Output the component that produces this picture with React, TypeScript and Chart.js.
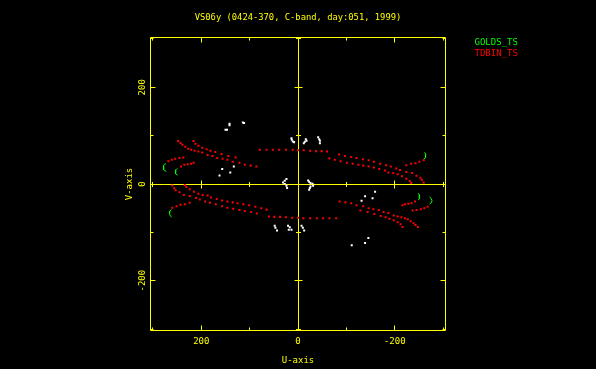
import { useEffect, useRef } from "react";
import { Chart, registerables } from "chart.js";

Chart.register(...registerables);

const TITLE = "VS06y (0424-370, C-band, day:051, 1999)";
const X_LABEL = "U-axis";
const Y_LABEL = "V-axis";
const TICK_VALUES = [-300, -200, -100, 0, 100, 200, 300];
const LABELED_TICKS = [-200, 0, 200];
const X_RANGE = 305;
const Y_RANGE = 303;

const YELLOW = "#ffff00";
const RED = "#ff0000";
const GREEN = "#00ff00";
const WHITE = "#ffffff";
const FONT = '9px "DejaVu Sans Mono", monospace';

type P = [number, number];

// TDBIN_TS baselines (red), [u, v]
const redUL1: P[] = [[248,89],[243,85],[239,81],[233,77],[227,73],[221,71],[214,69],[206,67],[198,65],[187,60],[177,58],[167,54],[156,52],[146,50],[135,46],[121,44],[110,40],[98,38],[86,36]];
const redLR1: P[] = [[-248,-89],[-243,-85],[-239,-81],[-233,-77],[-227,-73],[-221,-71],[-214,-69],[-206,-67],[-198,-65],[-187,-60],[-177,-58],[-167,-54],[-156,-52],[-146,-50],[-135,-46],[-121,-44],[-110,-40],[-98,-38],[-86,-36]];
const redUL2: P[] = [[216,89],[212,83],[206,79],[198,75],[189,72],[181,69],[171,66],[158,62],[144,58],[129,55]];
const redLR2: P[] = [[-216,-89],[-212,-83],[-206,-79],[-198,-75],[-189,-72],[-181,-69],[-171,-66],[-158,-62],[-144,-58],[-129,-55]];
const redUL3: P[] = [[268,47],[261,50],[254,52],[245,54],[237,55]];
const redLR3: P[] = [[-268,-47],[-261,-50],[-254,-52],[-245,-54],[-237,-55]];
const redUL4: P[] = [[242,36],[235,40],[228,41],[221,42],[216,44]];
const redLR4: P[] = [[-242,-36],[-235,-40],[-228,-41],[-221,-42],[-216,-44]];
const redTop: P[] = [[79,71],[65,71],[52,71],[39,71],[25,71],[11,71],[0,70],[-12,70],[-25,69],[-37,68],[-49,68],[-60,67]];
const redBottom: P[] = [[-79,-71],[-65,-71],[-52,-71],[-39,-71],[-25,-71],[-11,-71],[0,-70],[12,-70],[25,-69],[37,-68],[49,-68],[60,-67]];
const redUR1: P[] = [[-85,61],[-97,58],[-110,56],[-121,54],[-134,51],[-146,49],[-157,46],[-170,42],[-182,39],[-192,36],[-203,32],[-211,29],[-224,25],[-236,23],[-245,17],[-253,13],[-256,9],[-260,3]];
const redLL1: P[] = [[85,-61],[97,-58],[110,-56],[121,-54],[134,-51],[146,-49],[157,-46],[170,-42],[182,-39],[192,-36],[203,-32],[211,-29],[224,-25],[236,-23],[245,-17],[253,-13],[256,-9],[260,-3]];
const redUR2: P[] = [[-65,53],[-76,50],[-88,47],[-101,44],[-113,42],[-125,40],[-135,38],[-146,36],[-157,34],[-168,31],[-180,28],[-187,24],[-197,23],[-206,20],[-215,16],[-224,11],[-231,6],[-234,2]];
const redLL2: P[] = [[65,-53],[76,-50],[88,-47],[101,-44],[113,-42],[125,-40],[135,-38],[146,-36],[157,-34],[168,-31],[180,-28],[187,-24],[197,-23],[206,-20],[215,-16],[224,-11],[231,-6],[234,-2]];
const redUR3: P[] = [[-224,39],[-234,42],[-243,43],[-251,46],[-260,49]];
const redLL3: P[] = [[224,-39],[234,-42],[243,-43],[251,-46],[260,-49]];

// GOLDS_TS baselines (green), short arcs
const greenArc1: P[] = [[273,42],[276.5,40.7],[278,37.6],[278,33.5],[277.6,29.3],[275.5,27.3],[272.4,26.7]];
const greenArc2: P[] = [[249.5,32.4],[252.6,29.3],[253.7,25.2],[252.6,21.1],[248.9,18.4]];
const greenArc3: P[] = [[262,-52.7],[265.1,-56.4],[265.5,-60.9],[264.5,-65.7],[261.4,-68.4]];
const greenArc4: P[] = [[-261.2,65.5],[-263.9,62.4],[-264.3,58.3],[-263.2,54.1],[-259.7,51.4]];
const greenArc5: P[] = [[-248.1,-18.8],[-250.8,-22.3],[-251.4,-26.4],[-250.8,-30.6],[-248.1,-33.3]];
const greenArc6: P[] = [[-272.2,-26.4],[-275.7,-30.6],[-277.1,-34.7],[-275.7,-38.8],[-272.2,-41.5]];

// other baselines (white)
const whiteTop: P[] = [[13.5,94.8],[12.9,91.3],[10.8,87.8],[8.1,86.6],[-16.2,92.8],[-17.6,89.3],[-14.1,87.2],[-12,84.5],[-41.7,96.9],[-43.8,92.8],[-45.3,89.3],[-45.3,84.5]];
const whiteBottom: P[] = [[48.2,-86.4],[46.7,-90.5],[43.4,-96.1],[20.6,-86.4],[17,-89.5],[13.5,-94.6],[19.1,-94.6],[-7.3,-86.4],[-10,-90.5],[-12.7,-96.1]];
const whiteCenter: P[] = [[23.9,10.1],[27.4,6.6],[30.9,3.1],[27.4,-0.2],[23.9,-3.7],[22.6,-8.5],[-21,7.2],[-23,4.5],[-25.9,1.9],[-30.1,0.4],[-31.3,-3.7],[-25.9,-5.2],[-24.5,-8.5],[-23,-12]];
const whiteScatter: P[] = [[141.6,124.4],[141.6,121.3],[149.9,112],[146.8,112],[114,127.1],[111.5,126.4],[156.7,30.8],[140.1,23.8],[162.3,17.6],[132.7,36.2],[-159.4,-16.1],[-154.2,-29.5],[-138.7,-25.4],[-131.4,-34.7],[-145.5,-111.8],[-138.7,-122.1],[-111.1,-126.6]];

const redTracks = [redUL1, redLR1, redUL2, redLR2, redUL3, redLR3, redUL4, redLR4, redTop, redBottom, redUR1, redLL1, redUR2, redLL2, redUR3, redLL3];
const greenArcs = [greenArc1, greenArc2, greenArc3, greenArc4, greenArc5, greenArc6];
const whiteSets = [whiteTop, whiteBottom, whiteCenter, whiteScatter];

const LEGEND = [
  { label: "GOLDS_TS", color: GREEN },
  { label: "TDBIN_TS", color: RED },
];

const toXY = (pts: P[]) => pts.map(([x, y]) => ({ x, y }));

const decor = {
  id: "decor",
  beforeDraw(chart: any) {
    const ctx = chart.ctx;
    ctx.save();
    ctx.fillStyle = "#000000";
    ctx.fillRect(0, 0, chart.width, chart.height);
    ctx.restore();
  },
  beforeDatasetsDraw(chart: any) {
    const { ctx, chartArea: a } = chart;
    const xs = chart.scales.x;
    const ys = chart.scales.y;
    const snap = (p: number) => Math.round(p - 0.5) + 0.5;
    const L = snap(a.left), R = snap(a.right), T = snap(a.top), B = snap(a.bottom);
    const x0 = snap(xs.getPixelForValue(0));
    const y0 = snap(ys.getPixelForValue(0));
    ctx.save();
    ctx.strokeStyle = YELLOW;
    ctx.lineWidth = 1;
    ctx.beginPath();
    ctx.rect(L, T, R - L, B - T);
    ctx.moveTo(x0, T); ctx.lineTo(x0, B);
    ctx.moveTo(L, y0); ctx.lineTo(R, y0);
    for (const v of TICK_VALUES) {
      const major = v % 200 === 0;
      const len = major ? 5 : 3;
      const half = major ? 4 : 2.5;
      const px = snap(xs.getPixelForValue(v));
      const py = snap(ys.getPixelForValue(v));
      ctx.moveTo(px, B); ctx.lineTo(px, B - len);
      ctx.moveTo(px, T); ctx.lineTo(px, T + len);
      ctx.moveTo(L, py); ctx.lineTo(L + len, py);
      ctx.moveTo(R, py); ctx.lineTo(R - len, py);
      if (v !== 0) {
        ctx.moveTo(px, y0 - half); ctx.lineTo(px, y0 + half);
        ctx.moveTo(x0 - half, py); ctx.lineTo(x0 + half, py);
      }
    }
    ctx.stroke();

    ctx.fillStyle = YELLOW;
    ctx.font = FONT;
    ctx.textBaseline = "alphabetic";
    ctx.textAlign = "center";
    for (const v of LABELED_TICKS) {
      ctx.fillText(String(v), xs.getPixelForValue(v), B + 13);
    }
    ctx.fillText(X_LABEL, (a.left + a.right) / 2, B + 32);
    for (const v of LABELED_TICKS) {
      ctx.save();
      ctx.translate(a.left - 5.5, ys.getPixelForValue(v));
      ctx.rotate(-Math.PI / 2);
      ctx.fillText(String(v), 0, 0);
      ctx.restore();
    }
    ctx.save();
    ctx.translate(a.left - 19, (a.top + a.bottom) / 2);
    ctx.rotate(-Math.PI / 2);
    ctx.fillText(Y_LABEL, 0, 0);
    ctx.restore();

    ctx.font = '8.8px "DejaVu Sans Mono", monospace';
    ctx.fillText(TITLE, (a.left + a.right) / 2, 19.5);

    ctx.font = FONT;
    ctx.textAlign = "left";
    LEGEND.forEach((item, i) => {
      ctx.fillStyle = item.color;
      ctx.fillText(item.label, 474.5, 45 + i * 10.6);
    });
    ctx.restore();
  },
};

export default function App() {
  const ref = useRef<HTMLCanvasElement>(null);
  useEffect(() => {
    document.body.style.margin = "0";
    document.body.style.background = "#000";
    const datasets: any[] = [];
    datasets.push({
      label: "TDBIN_TS",
      data: toXY(redTracks.flat()),
      pointStyle: "rect",
      pointRadius: 1.42,
      backgroundColor: RED,
      borderWidth: 0,
      showLine: false,
    });
    datasets.push({
      label: "other",
      data: toXY(whiteSets.flat()),
      pointStyle: "rect",
      pointRadius: 1.42,
      backgroundColor: WHITE,
      borderWidth: 0,
      showLine: false,
    });
    greenArcs.forEach((arc) => {
      datasets.push({
        label: "GOLDS_TS",
        data: toXY(arc),
        showLine: true,
        borderColor: GREEN,
        borderWidth: 1,
        pointRadius: 0,
        fill: false,
        tension: 0,
      });
    });
    const chart = new Chart(ref.current!, {
      type: "scatter",
      data: { datasets },
      options: {
        responsive: false,
        animation: false,
        devicePixelRatio: 1,
        events: [],
        layout: { padding: { left: 150.5, right: 150.5, top: 37.5, bottom: 38.5 } },
        scales: {
          x: { type: "linear", min: -X_RANGE, max: X_RANGE, reverse: true, display: false },
          y: { type: "linear", min: -Y_RANGE, max: Y_RANGE, display: false },
        },
        plugins: {
          legend: { display: false },
          title: { display: false },
          tooltip: { enabled: false },
        },
      },
      plugins: [decor],
    } as any);
    return () => chart.destroy();
  }, []);
  return (
    <div style={{ position: "fixed", left: 0, top: 0, width: 596, height: 369, background: "#000" }}>
      <canvas ref={ref} width={596} height={369} style={{ display: "block", width: 596, height: 369 }} />
    </div>
  );
}
